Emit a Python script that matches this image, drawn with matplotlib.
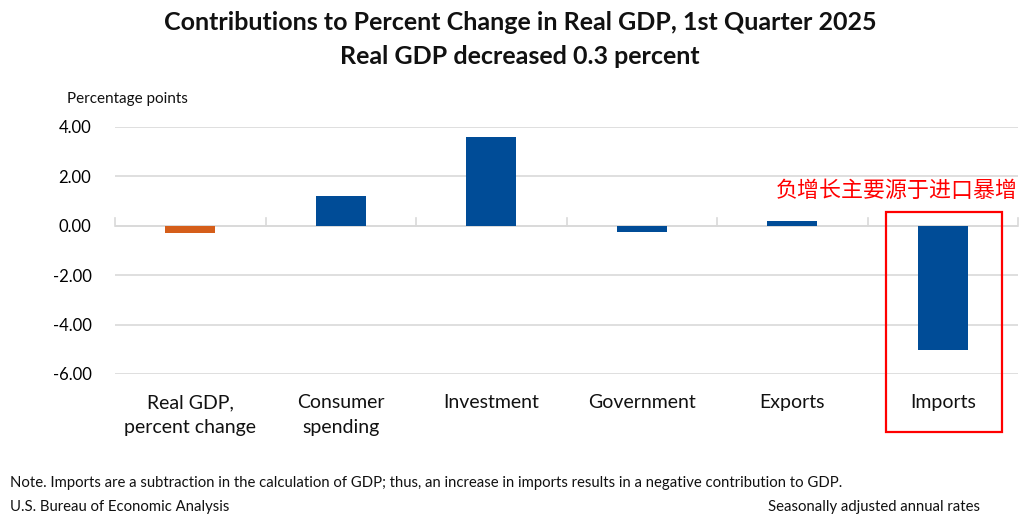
import matplotlib
matplotlib.use("Agg")
import matplotlib.pyplot as plt
from matplotlib.patches import Rectangle
import numpy as np

categories = ["Real GDP,\npercent change", "Consumer\nspending", "Investment",
              "Government", "Exports", "Imports"]
values = [-0.3, 1.21, 3.60, -0.25, 0.19, -5.03]
colors = ["#D55E1A", "#004C97", "#004C97", "#004C97", "#004C97", "#004C97"]
yticks = [4.0, 2.0, 0.0, -2.0, -4.0, -6.0]

W, H = 1024, 524
fig = plt.figure(figsize=(W/100, H/100), dpi=100)
plt.rcParams['font.family'] = ['Lato', 'Noto Sans CJK SC', 'DejaVu Sans']

def fx(px): return px / W
def fy(py): return 1 - py / H

ax = fig.add_axes([fx(115), fy(374), fx(1018) - fx(115), fy(127) - fy(374)])
x = np.arange(len(categories))
ax.bar(x, values, width=0.33, color=colors, zorder=3)
ax.set_xlim(-0.5, len(categories) - 0.5)
ax.set_ylim(-6, 4)
ax.set_yticks(yticks)
ax.set_yticklabels([f"{v:.2f}" for v in yticks], fontsize=12)
ax.yaxis.grid(True, color="#d9d9d9", linewidth=1.2, zorder=0)
ax.tick_params(axis="y", length=0, pad=17)
for s in ax.spines.values():
    s.set_visible(False)
ax.axhline(0, color="#d9d9d9", linewidth=1.2, zorder=1)
# category boundary ticks on the zero line
for b in np.arange(-0.5, len(categories), 1.0):
    ax.plot([b, b], [0, 0.3], color="#d9d9d9", linewidth=1.2, zorder=1, clip_on=False)
ax.set_xticks([])
for i, c in enumerate(categories):
    fig.text(fx(115 + 150.5 * (i + 0.5)), fy(394), c, ha="center", va="top",
             fontsize=14, linespacing=1.6, color="#111111")

fig.text(fx(520), fy(22), "Contributions to Percent Change in Real GDP, 1st Quarter 2025",
         ha="center", va="center", fontsize=18, fontweight="bold", color="#111111")
fig.text(fx(520), fy(56), "Real GDP decreased 0.3 percent",
         ha="center", va="center", fontsize=18, fontweight="bold", color="#111111")
fig.text(fx(67), fy(99), "Percentage points", ha="left", va="center", fontsize=11, color="#111111")

fig.text(fx(10), fy(483), "Note. Imports are a subtraction in the calculation of GDP; thus, an increase in imports results in a negative contribution to GDP.",
         ha="left", va="center", fontsize=10.7, color="#111111")
fig.text(fx(10), fy(507), "U.S. Bureau of Economic Analysis", ha="left", va="center", fontsize=10.7, color="#111111")
fig.text(fx(980), fy(507), "Seasonally adjusted annual rates", ha="right", va="center", fontsize=10.7, color="#111111")

fig.text(fx(1018), fy(191), "负增长主要源于进口暴增", ha="right", va="center", fontsize=15.8,
         color="#FF0000", family=["Noto Sans CJK SC", "DejaVu Sans"])
fig.patches.append(Rectangle((fx(886), fy(432)), fx(1002) - fx(886), fy(212) - fy(432),
                             transform=fig.transFigure, fill=False, edgecolor="#FF0000",
                             linewidth=1.6, figure=fig))

fig.savefig("out.png", dpi=100)
